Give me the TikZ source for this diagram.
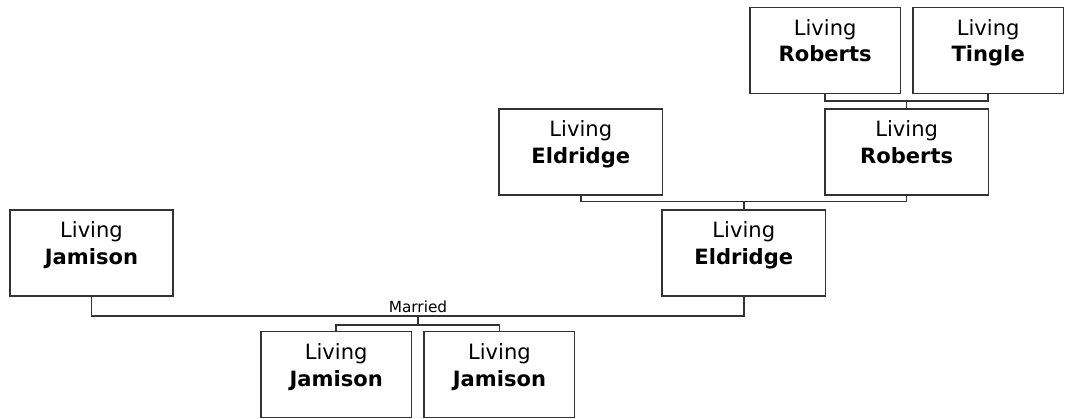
\documentclass[tikz,border=0pt]{standalone}
\usepackage{fontspec}
\setmainfont{DejaVu Sans}
\usetikzlibrary{positioning}

\newcommand{\living}[1]{\raisebox{5.3pt}[\height][\depth]{\begin{tabular}{@{}c@{}}Living\\\textbf{#1}\end{tabular}}}

\tikzset{
  person/.style={draw=black!80, line width=1.1pt, inner sep=0pt, minimum height=64.5pt,
    font=\fontsize{15.8}{20}\selectfont},
  wide/.style={person, minimum width=122.5pt},
  narrow/.style={person, minimum width=113pt},
  link/.style={draw=black!80, line width=1.1pt}
}

\begin{document}
\begin{tikzpicture}[x=0.75pt,y=-0.75pt]
\useasboundingbox (0,0) rectangle (1066,418);
% people
\node[narrow] (robTop) at (825.2,50.3) {\living{Roberts}};
\node[narrow] (tin) at (988.2,50.3) {\living{Tingle}};
\node[wide] (rob) at (906.7,152) {\living{Roberts}};
\node[wide] (eldTop) at (580.8,152) {\living{Eldridge}};
\node[wide] (eld) at (743.8,253) {\living{Eldridge}};
\node[wide] (jam) at (91.5,253) {\living{Jamison}};
\node[narrow] (kidA) at (336.2,374.5) {\living{Jamison}};
\node[narrow] (kidB) at (499.4,374.5) {\living{Jamison}};
% junctions
\coordinate (j1) at (906.7,101);
\coordinate (j2) at (743.8,201.7);
\coordinate (m) at (418,316);
\coordinate (j3) at (418,325);
\draw[link] (robTop.south) |- (j1) -| (tin.south);
\draw[link] (j1) -- (rob.north);
\draw[link] (eldTop.south) |- (j2) -| (rob.south);
\draw[link] (j2) -- (eld.north);
\draw[link] (jam.south) |- (m) -| (eld.south);
\node[inner sep=0pt, font=\fontsize{11.5}{13}\selectfont, above=2.5pt of m] (married) {Married};
\draw[link] (m) -- (j3);
\draw[link] (kidA.north) |- (j3) -| (kidB.north);
\end{tikzpicture}
\end{document}
